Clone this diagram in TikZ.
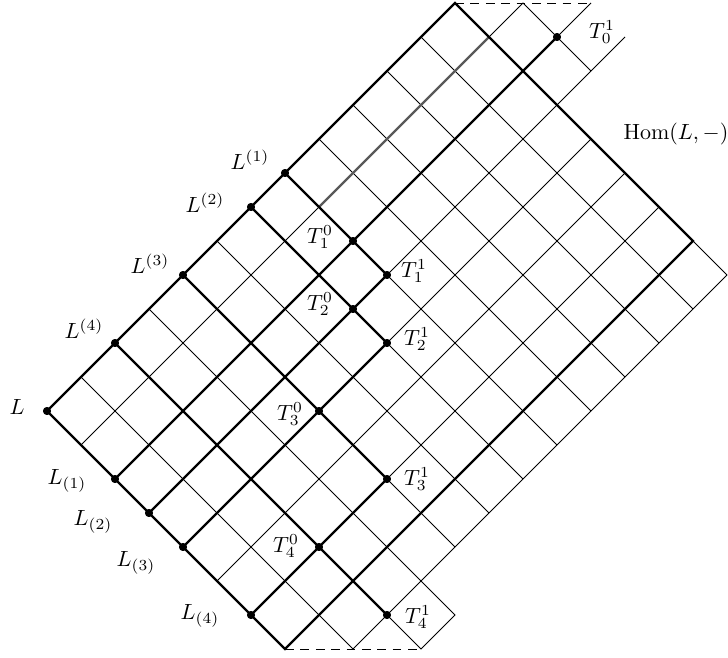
\documentclass[tikz,border=0pt]{standalone}
\begin{document}
\begin{tikzpicture}[
  thinline/.style={line width=0.4pt},
  thickline/.style={line width=1pt},
  grayline/.style={line width=1pt, black!65},
  dashline/.style={line width=0.4pt, dash pattern=on 4pt off 3pt},
  dot/.style={circle, fill, inner sep=0pt, minimum size=3.6pt},
  lbl/.style={inner sep=0pt}
]
\useasboundingbox (0,0) rectangle (11.648,-10.512);
\begin{scope}[shift={(0.752cm,-6.576cm)}, x={(0.544cm,0.544cm)}, y={(0.544cm,-0.544cm)}]
  % dots (named)
  \node[dot] (L)   at (0,0) {};
  \node[dot] (Lu1) at (7,0) {};
  \node[dot] (Lu2) at (6,0) {};
  \node[dot] (Lu3) at (4,0) {};
  \node[dot] (Lu4) at (2,0) {};
  \node[dot] (Ld1) at (0,2) {};
  \node[dot] (Ld2) at (0,3) {};
  \node[dot] (Ld3) at (0,4) {};
  \node[dot] (Ld4) at (0,6) {};
  \node[dot] (T10) at (7,2) {};
  \node[dot] (T11) at (7,3) {};
  \node[dot] (T20) at (6,3) {};
  \node[dot] (T21) at (6,4) {};
  \node[dot] (T30) at (4,4) {};
  \node[dot] (T31) at (4,6) {};
  \node[dot] (T40) at (2,6) {};
  \node[dot] (T41) at (2,8) {};
  \node[dot] (T01) at (13,2) {};
  \coordinate (top) at (12,0);
  \coordinate (rc) at (12,7);
  \coordinate (bot) at (0,7);
  % thin grid of the main block
  \foreach \u in {1,...,11} \draw[thinline] (\u,0) -- (\u,7);
  \foreach \v in {1,...,6} \draw[thinline] (0,\v) -- (12,\v);
  % lower extension
  \foreach \u in {1,...,12} \draw[thinline] (\u,7) -- (\u,8);
  \draw[thinline] (1,8) -- (12,8);
  \draw[thinline] (2,8) -- (2,9) -- (3,9) -- (3,8);
  % upper extension
  \draw[thinline] (12,1) -- (13,1) -- (13,3);
  \draw[thinline] (12,2) -- (14,2);
  \draw[thinline] (12,3) -- (14,3);
  % dashed cut lines
  \coordinate (dA) at (2,9);
  \coordinate (dB) at (14,2);
  \draw[dashline] (bot) -- (dA);
  \draw[dashline] (top) -- (dB);
  % gray thick line
  \draw[grayline] (7,1) -- (12,1);
  % thick frame
  \draw[thickline, line join=miter] (L.center) -- (top) -- (rc) -- (bot) -- cycle;
  % thick paths through the marked points
  \draw[thickline] (Lu1.center) -- (T10.center) -- (T11.center);
  \draw[thickline] (Lu2.center) -- (T20.center) -- (T21.center);
  \draw[thickline] (Lu3.center) -- (T30.center) -- (T31.center);
  \draw[thickline] (Lu4.center) -- (T40.center) -- (T41.center);
  \draw[thickline] (Ld1.center) -- (T10.center) -- (T01.center);
  \draw[thickline] (Ld2.center) -- (T20.center) -- (T11.center);
  \draw[thickline] (Ld3.center) -- (T30.center) -- (T21.center);
  \draw[thickline] (Ld4.center) -- (T40.center) -- (T31.center);
  % redraw dots on top
  \foreach \n in {L,Lu1,Lu2,Lu3,Lu4,Ld1,Ld2,Ld3,Ld4,T10,T11,T20,T21,T30,T31,T40,T41,T01}
    \fill (\n.center) circle (1.8pt);
\end{scope}
% labels
\node[lbl] (tL)   at (0.272,-6.512) {$L$};
\node[lbl] (tLu1) at (4.0,-2.56)    {$L^{(1)}$};
\node[lbl] (tLu2) at (3.28,-3.248)  {$L^{(2)}$};
\node[lbl] (tLu3) at (2.4,-4.224)   {$L^{(3)}$};
\node[lbl] (tLu4) at (1.344,-5.264) {$L^{(4)}$};
\node[lbl] (tLd1) at (1.072,-7.696) {$L_{(1)}$};
\node[lbl] (tLd2) at (1.488,-8.352) {$L_{(2)}$};
\node[lbl] (tLd3) at (2.176,-9.008) {$L_{(3)}$};
\node[lbl] (tLd4) at (3.2,-9.856)   {$L_{(4)}$};
\node[lbl] (tT10) at (5.12,-3.792)  {$T^0_1$};
\node[lbl] (tT11) at (6.624,-4.336) {$T^1_1$};
\node[lbl] (tT20) at (5.12,-4.864)  {$T^0_2$};
\node[lbl] (tT21) at (6.672,-5.424) {$T^1_2$};
\node[lbl] (tT30) at (4.64,-6.624)  {$T^0_3$};
\node[lbl] (tT31) at (6.672,-7.664) {$T^1_3$};
\node[lbl] (tT40) at (4.576,-8.736) {$T^0_4$};
\node[lbl] (tT41) at (6.688,-9.872) {$T^1_4$};
\node[lbl] (tT01) at (9.632,-0.512) {$T^1_0$};
\node[lbl] (tHom) at (10.816,-2.144) {$\mathrm{Hom}(L,-)$};
\end{tikzpicture}
\end{document}
